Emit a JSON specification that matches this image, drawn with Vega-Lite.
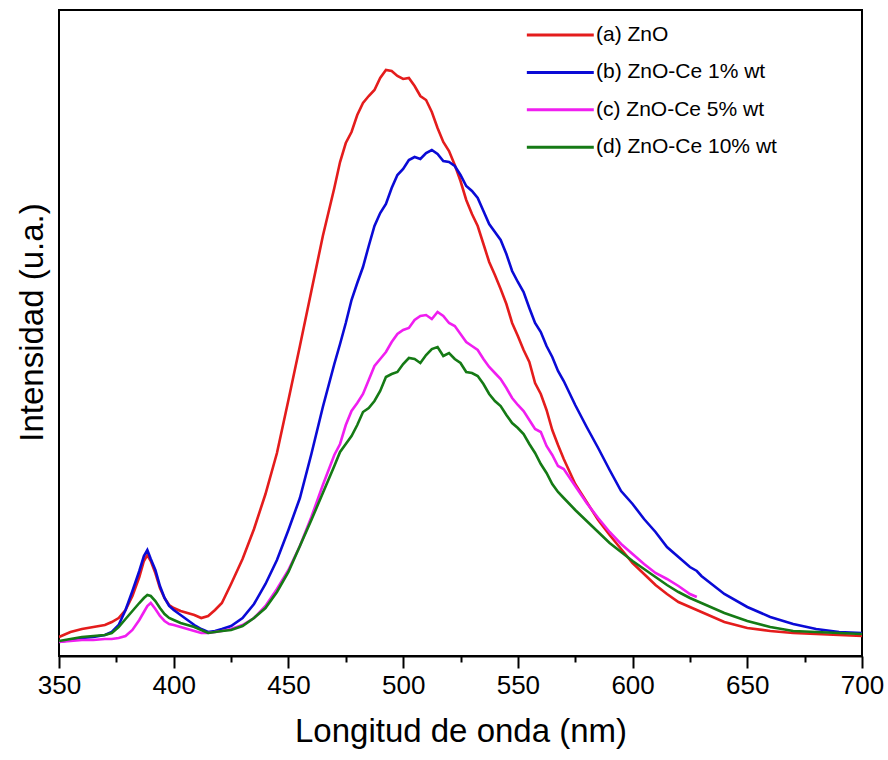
{
  "$schema": "https://vega.github.io/schema/vega-lite/v6.json",
  "width": 803,
  "height": 646,
  "autosize": {"type": "none"},
  "padding": {"left": 59, "top": 10, "right": 26, "bottom": 104},
  "background": "white",
  "config": {"font": "Liberation Sans", "view": {"stroke": "black", "strokeWidth": 2}},
  "data": {"values": [
    {"x":350,"a":19,"b":14,"c":14,"d":15},
    {"x":355,"a":24,"b":16,"c":15,"d":17},
    {"x":360,"a":27,"b":18,"c":16,"d":19},
    {"x":365,"a":29,"b":19,"c":16,"d":20},
    {"x":370,"a":31,"b":21,"c":17,"d":21},
    {"x":373,"a":34,"b":24,"c":17,"d":23},
    {"x":376,"a":38,"b":31,"c":18,"d":29},
    {"x":379,"a":46,"b":46,"c":20,"d":37},
    {"x":382,"a":60,"b":65,"c":26,"d":45},
    {"x":385,"a":79,"b":85,"c":36,"d":53},
    {"x":387,"a":95,"b":100,"c":44,"d":58},
    {"x":388.5,"a":101,"b":106,"c":50,"d":61},
    {"x":390,"a":95,"b":97,"c":53,"d":60},
    {"x":392,"a":83,"b":86,"c":47,"d":55},
    {"x":394,"a":68,"b":70,"c":40,"d":48},
    {"x":396,"a":58,"b":58,"c":35,"d":42},
    {"x":398,"a":51,"b":50,"c":32,"d":38},
    {"x":400,"a":48,"b":46,"c":31,"d":36},
    {"x":403,"a":45,"b":41,"c":29,"d":33},
    {"x":406,"a":43,"b":36,"c":27,"d":31},
    {"x":409,"a":41,"b":31,"c":25,"d":29},
    {"x":412,"a":38,"b":27,"c":23,"d":26},
    {"x":415,"a":40,"b":24,"c":23,"d":23},
    {"x":418,"a":46,"b":25,"c":24,"d":24},
    {"x":421,"a":53,"b":27,"c":25,"d":25},
    {"x":425,"a":72,"b":30,"c":27,"d":26},
    {"x":430,"a":97,"b":38,"c":31,"d":30},
    {"x":435,"a":127,"b":52,"c":38,"d":38},
    {"x":440,"a":162,"b":72,"c":50,"d":48},
    {"x":445,"a":203,"b":96,"c":67,"d":64},
    {"x":450,"a":256,"b":126,"c":86,"d":84},
    {"x":455,"a":310,"b":158,"c":110,"d":110},
    {"x":460,"a":365,"b":202,"c":139,"d":136},
    {"x":465,"a":420,"b":249,"c":171,"d":163},
    {"x":470,"a":468,"b":292,"c":201,"d":190},
    {"x":472.5,"a":494,"b":312,"c":212,"d":204},
    {"x":475,"a":513,"b":333,"c":231,"d":212},
    {"x":477.5,"a":524,"b":356,"c":245,"d":220},
    {"x":480,"a":541,"b":373,"c":253,"d":231},
    {"x":482.5,"a":553,"b":389,"c":262,"d":244},
    {"x":485,"a":560,"b":410,"c":276,"d":248},
    {"x":487.5,"a":566,"b":430,"c":290,"d":255},
    {"x":490,"a":578,"b":443,"c":297,"d":265},
    {"x":492.5,"a":586,"b":452,"c":304,"d":279},
    {"x":495,"a":585,"b":468,"c":314,"d":282},
    {"x":497.5,"a":580,"b":481,"c":322,"d":284},
    {"x":500,"a":577,"b":487,"c":326,"d":292},
    {"x":502.5,"a":578,"b":496,"c":328,"d":298},
    {"x":505,"a":570,"b":499,"c":336,"d":297},
    {"x":507.5,"a":560,"b":497,"c":340,"d":293},
    {"x":510,"a":556,"b":503,"c":341,"d":301},
    {"x":512.5,"a":544,"b":506,"c":337,"d":307},
    {"x":515,"a":528,"b":502,"c":344,"d":309},
    {"x":517.5,"a":514,"b":495,"c":340,"d":300},
    {"x":520,"a":505,"b":494,"c":333,"d":303},
    {"x":522.5,"a":491,"b":490,"c":330,"d":297},
    {"x":525,"a":475,"b":481,"c":322,"d":293},
    {"x":527.5,"a":456,"b":470,"c":314,"d":284},
    {"x":530,"a":442,"b":465,"c":310,"d":283},
    {"x":532.5,"a":430,"b":458,"c":306,"d":280},
    {"x":535,"a":412,"b":445,"c":297,"d":272},
    {"x":537.5,"a":394,"b":432,"c":289,"d":262},
    {"x":540,"a":381,"b":424,"c":283,"d":255},
    {"x":542.5,"a":367,"b":416,"c":277,"d":250},
    {"x":545,"a":352,"b":402,"c":268,"d":241},
    {"x":547.5,"a":333,"b":385,"c":258,"d":233},
    {"x":550,"a":320,"b":374,"c":251,"d":228},
    {"x":552.5,"a":306,"b":364,"c":245,"d":222},
    {"x":555,"a":294,"b":348,"c":236,"d":212},
    {"x":557.5,"a":273,"b":333,"c":227,"d":203},
    {"x":560,"a":262,"b":324,"c":224,"d":192},
    {"x":562.5,"a":246,"b":310,"c":210,"d":183},
    {"x":565,"a":226,"b":299,"c":201,"d":172},
    {"x":567.5,"a":211,"b":285,"c":190,"d":164},
    {"x":570,"a":197,"b":275,"c":187,"d":158},
    {"x":575,"a":172,"b":251,"c":170,"d":146},
    {"x":580,"a":154,"b":229,"c":153,"d":135},
    {"x":585,"a":136,"b":208,"c":138,"d":124},
    {"x":590,"a":121,"b":186,"c":124,"d":113},
    {"x":595,"a":107,"b":165,"c":112,"d":104},
    {"x":600,"a":93,"b":152,"c":102,"d":95},
    {"x":605,"a":82,"b":137,"c":92,"d":87},
    {"x":610,"a":71,"b":124,"c":83,"d":79},
    {"x":615,"a":62,"b":109,"c":77,"d":71},
    {"x":620,"a":54,"b":99,"c":70,"d":64},
    {"x":625,"a":49,"b":89,"c":62,"d":58},
    {"x":628,"a":46,"b":85,"c":59,"d":55},
    {"x":630,"a":44,"b":80,"d":53},
    {"x":640,"a":34,"b":62,"d":43},
    {"x":650,"a":28,"b":49,"d":35},
    {"x":660,"a":25,"b":39,"d":29},
    {"x":670,"a":23,"b":32,"d":25},
    {"x":680,"a":22,"b":27,"d":24},
    {"x":690,"a":21,"b":24,"d":23},
    {"x":700,"a":20,"b":23,"d":22}
  ]},
  "transform": [
    {"fold": ["a", "b", "c", "d"], "as": ["s", "v"]},
    {"filter": "isValid(datum.v)"}
  ],
  "mark": {"type": "line", "strokeWidth": 2.6, "clip": true},
  "encoding": {
    "x": {
      "field": "x", "type": "quantitative",
      "scale": {"domain": [350, 700], "nice": false, "zero": false},
      "axis": {
        "values": [350, 375, 400, 425, 450, 475, 500, 525, 550, 575, 600, 625, 650, 675, 700],
        "labelExpr": "datum.value % 50 === 0 ? datum.label : ''",
        "tickSize": {"condition": {"test": "datum.value % 50 === 0", "value": 12}, "value": 6},
        "tickWidth": 2, "tickColor": "black",
        "domainColor": "black", "domainWidth": 2,
        "labelFontSize": 26, "labelColor": "black", "labelPadding": 4, "labelFlush": false,
        "grid": false,
        "title": "Longitud de onda (nm)", "titleFontSize": 33, "titleFontWeight": "normal",
        "titleColor": "black", "titlePadding": 17
      }
    },
    "y": {
      "field": "v", "type": "quantitative",
      "scale": {"domain": [0, 646], "nice": false, "zero": false},
      "axis": {
        "labels": false, "ticks": false, "domain": false, "grid": false,
        "title": "Intensidad (u.a.)", "titleFontSize": 33, "titleFontWeight": "normal",
        "titleColor": "black", "titlePadding": 10, "titleY": 312
      }
    },
    "color": {
      "field": "s", "type": "nominal",
      "scale": {"domain": ["a", "b", "c", "d"], "range": ["#e41c1c", "#0a0ad6", "#f01ef0", "#157a15"]},
      "legend": {
        "orient": "none", "legendX": 466, "legendY": 12, "title": null,
        "symbolType": "M-1,0H5", "symbolSize": 498, "symbolStrokeWidth": 3,
        "labelFontSize": 21, "labelColor": "black", "labelOffset": 45, "labelLimit": 0,
        "rowPadding": 14.4, "padding": 0,
        "labelExpr": "{'a': '(a) ZnO', 'b': '(b) ZnO-Ce 1% wt', 'c': '(c) ZnO-Ce 5% wt', 'd': '(d) ZnO-Ce 10% wt'}[datum.label]"
      }
    }
  }
}
